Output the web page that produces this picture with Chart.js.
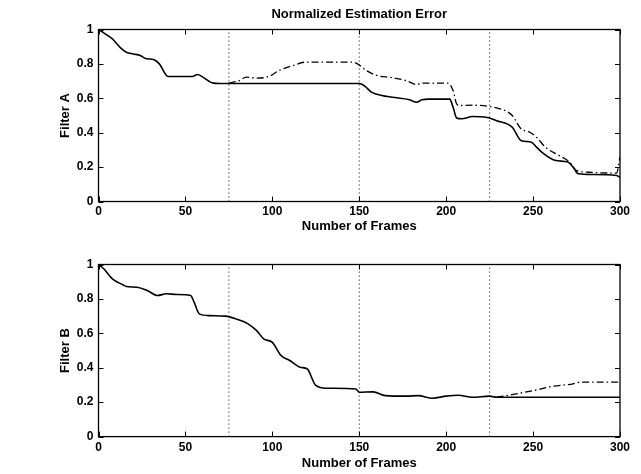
<!DOCTYPE html>
<html>
<head>
<meta charset="utf-8">
<script src="https://cdn.jsdelivr.net/npm/chart.js@4"></script>
<style>
  body { margin: 0; background: #fff; }
  #wrap { position: relative; width: 641px; height: 474px; }
  canvas { position: absolute; left: 0; }
  #chartA { top: 0; }
  #chartB { top: 237px; }
</style>
</head>
<body>
<div id="wrap">
  <canvas id="chartA" width="641" height="237"></canvas>
  <canvas id="chartB" width="641" height="237"></canvas>
</div>
<script>
// Data
const filterASolidFrames = [0, 3, 8, 13, 16, 20, 24, 27, 32, 35, 40, 47, 54, 57, 60, 66, 70, 150, 153, 157, 163, 169, 179, 183, 186, 190, 202, 204, 206, 209, 215, 223, 229, 238, 243, 249, 252, 255, 263, 270, 273, 276, 284, 298, 300];
const filterASolidValues = [1.0, 0.98, 0.945, 0.89, 0.868, 0.858, 0.849, 0.832, 0.824, 0.80, 0.727, 0.727, 0.727, 0.738, 0.723, 0.688, 0.686, 0.686, 0.672, 0.636, 0.616, 0.606, 0.591, 0.577, 0.591, 0.595, 0.595, 0.548, 0.486, 0.481, 0.494, 0.49, 0.47, 0.432, 0.355, 0.345, 0.316, 0.287, 0.238, 0.229, 0.2, 0.161, 0.157, 0.151, 0.14];

const filterADashFrames = [75, 81, 85, 91, 98, 104, 112, 119, 131, 146, 149, 154, 160, 169, 177, 183, 186, 201, 204, 206, 208, 215, 225, 231, 238, 243, 248, 252, 257, 265, 271, 275, 282, 298, 300];
const filterADashValues = [0.688, 0.703, 0.723, 0.717, 0.727, 0.762, 0.791, 0.81, 0.81, 0.81, 0.80, 0.762, 0.733, 0.72, 0.703, 0.68, 0.688, 0.688, 0.645, 0.568, 0.558, 0.56, 0.552, 0.539, 0.5, 0.423, 0.403, 0.374, 0.316, 0.267, 0.229, 0.18, 0.17, 0.165, 0.26];

const filterBSolidFrames = [0, 3, 8, 14, 16, 22, 28, 34, 39, 45, 53, 55, 58, 64, 73, 79, 86, 91, 95, 100, 105, 110, 116, 120, 125, 131, 148, 150, 158, 165, 177, 184, 192, 200, 207, 215, 225, 229, 300];
const filterBSolidValues = [1.0, 0.975, 0.917, 0.882, 0.872, 0.868, 0.849, 0.82, 0.83, 0.826, 0.82, 0.781, 0.713, 0.703, 0.7, 0.684, 0.655, 0.616, 0.568, 0.548, 0.471, 0.442, 0.403, 0.394, 0.297, 0.281, 0.277, 0.258, 0.26, 0.238, 0.235, 0.238, 0.223, 0.235, 0.24, 0.229, 0.235, 0.229, 0.229];

const filterBDashFrames = [229, 240, 250, 261, 273, 277, 300];
const filterBDashValues = [0.229, 0.248, 0.267, 0.292, 0.306, 0.316, 0.316];

const markerFrames = [75, 150, 225]; // dotted vertical lines
const xTicks = [0, 50, 100, 150, 200, 250, 300];
const yTicks = [0, 0.2, 0.4, 0.6, 0.8, 1];

const chartTitle = 'Normalized Estimation Error';
const xTitle = 'Number of Frames';

function toPoints(frames, values) { //pair frames with values
    return frames.map((f, i) => ({ x: f, y: values[i] }));
}

function markerSets() { //dotted verticals as small datasets
    return markerFrames.map(f => ({
        data: [{ x: f, y: 0 }, { x: f, y: 1 }],
        borderColor: '#000',
        borderWidth: 1,
        borderDash: [1, 3],
        pointRadius: 0,
        tension: 0
    }));
}

// box round the plot area with inward ticks on all four sides
const boxPlugin = {
    id: 'matlabBox',
    afterDatasetsDraw(chart) {
        const { ctx, chartArea: a, scales } = chart;
        ctx.save();
        ctx.strokeStyle = '#000';
        ctx.lineWidth = 1.3;
        ctx.strokeRect(a.left, a.top, a.right - a.left, a.bottom - a.top);
        ctx.lineWidth = 1;
        ctx.beginPath();
        xTicks.forEach(t => {
            const px = Math.round(scales.x.getPixelForValue(t)) + 0.5;
            ctx.moveTo(px, a.bottom); ctx.lineTo(px, a.bottom - 5);
            ctx.moveTo(px, a.top); ctx.lineTo(px, a.top + 5);
        });
        yTicks.forEach(t => {
            const py = Math.round(scales.y.getPixelForValue(t)) + 0.5;
            ctx.moveTo(a.left, py); ctx.lineTo(a.left + 5, py);
            ctx.moveTo(a.right, py); ctx.lineTo(a.right - 5, py);
        });
        ctx.stroke();
        ctx.restore();
    }
};

function makeChart(id, yLabel, solid, dash, opts) { //build one panel
    const ctx = document.getElementById(id).getContext('2d');
    return new Chart(ctx, {
        type: 'line',
        data: {
            datasets: [
                ...markerSets(),
                { data: solid, borderColor: '#000', borderWidth: 1.6, pointRadius: 0, cubicInterpolationMode: 'monotone' },
                { data: dash, borderColor: '#000', borderWidth: 1.3, borderDash: [7, 3, 1.5, 3], pointRadius: 0, cubicInterpolationMode: 'monotone' }
            ]
        },
        options: {
            responsive: false,
            animation: false,
            devicePixelRatio: 1,
            layout: { padding: { left: 0, right: 21, top: opts.padTop, bottom: 0 } },
            plugins: {
                legend: { display: false },
                tooltip: { enabled: false },
                title: {
                    display: !!opts.title,
                    text: opts.title || '',
                    fullSize: false,
                    color: '#000',
                    font: { family: 'Liberation Sans', size: 13, weight: 'bold' },
                    padding: { top: 6.5, bottom: 7.4 }
                }
            },
            scales: {
                x: {
                    type: 'linear',
                    min: 0, max: 300,
                    grid: { display: false, drawTicks: false },
                    border: { display: false },
                    afterBuildTicks: s => { s.ticks = xTicks.map(v => ({ value: v })); },
                    afterFit: s => { s.height = opts.xHeight; },
                    ticks: { color: '#000', padding: opts.tickPad, maxRotation: 0, callback: v => String(v), font: { family: 'Liberation Sans', size: 12, weight: 'bold' } },
                    title: { display: true, text: xTitle, color: '#000', padding: { top: 0, bottom: 2.5 }, font: { family: 'Liberation Sans', size: 13, weight: 'bold' } }
                },
                y: {
                    min: 0, max: 1,
                    grid: { display: false, drawTicks: false },
                    border: { display: false },
                    afterBuildTicks: s => { s.ticks = yTicks.map(v => ({ value: v })); },
                    afterFit: s => { s.width = 98.5; },
                    ticks: { color: '#000', padding: 5, callback: v => String(v), font: { family: 'Liberation Sans', size: 12, weight: 'bold' } },
                    title: { display: true, text: yLabel, color: '#000', padding: { top: 58, bottom: 0 }, font: { family: 'Liberation Sans', size: 13, weight: 'bold' } }
                }
            }
        },
        plugins: [boxPlugin]
    });
}

window.addEventListener('DOMContentLoaded', () => {
    makeChart('chartA', 'Filter A',
        toPoints(filterASolidFrames, filterASolidValues),
        toPoints(filterADashFrames, filterADashValues),
        { title: chartTitle, padTop: 0, xHeight: 35.5, tickPad: 3 });
    makeChart('chartB', 'Filter B',
        toPoints(filterBSolidFrames, filterBSolidValues),
        toPoints(filterBDashFrames, filterBDashValues),
        { title: null, padTop: 27.5, xHeight: 37.4, tickPad: 4 });
});
</script>
</body>
</html>
